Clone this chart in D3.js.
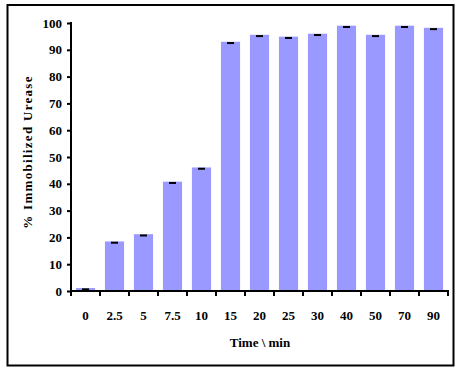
<!DOCTYPE html>
<html><head><meta charset="utf-8">
<script src="https://cdn.jsdelivr.net/npm/d3@7"></script>
<style>body{margin:0;background:#fff}svg{display:block}</style>
</head><body><svg id="c" width="462" height="377" font-family="Liberation Serif" font-weight="bold"></svg>
<script>
const categories = ["0","2.5","5","7.5","10","15","20","25","30","40","50","70","90"];
const values = [1.1, 18.5, 21.2, 40.8, 46.1, 93.0, 95.6, 94.9, 96.0, 99.0, 95.6, 99.0, 98.2];
const yTicks = [0,10,20,30,40,50,60,70,80,90,100];
const FONT = "Liberation Serif";

const svg = d3.select("#c");
svg.append("rect").attr("x",7.5).attr("y",5).attr("width",446).attr("height",360.5)
  .attr("fill","none").attr("stroke","#000").attr("stroke-width",2);

const x = d3.scaleBand().domain(categories).range([71,448]).paddingInner(0.34).paddingOuter(0.17);
const y = d3.scaleLinear().domain([0,100]).range([291,23]);

svg.append("g").selectAll("rect").data(values).join("rect")
  .attr("x",(d,i)=>x(categories[i])).attr("width",x.bandwidth())
  .attr("y",d=>y(d)).attr("height",d=>y(0)-y(d)).attr("fill","#9999FF");

svg.append("g").selectAll("rect").data(values).join("rect")
  .attr("x",(d,i)=>x(categories[i])+x.bandwidth()/2-3.5).attr("width",7)
  .attr("y",(d,i)=>y(d)+0.3).attr("height",2).attr("fill","#000");

const yAxis = svg.append("g").attr("transform","translate(71,0)")
  .call(d3.axisLeft(y).tickValues(yTicks).tickSize(4).tickPadding(5));
yAxis.attr("font-family",FONT).attr("font-size",13).attr("font-weight","bold");
yAxis.selectAll("path,line").attr("stroke","#000").attr("stroke-width",2);
yAxis.select("path").attr("d","M0,22V292");
yAxis.selectAll("text").attr("fill","#000");

const xb = d3.scaleLinear().domain([0,categories.length]).range([71,448]);
const xAxis = svg.append("g").attr("transform","translate(0,291)");
xAxis.append("path").attr("d","M70,0H449").attr("stroke","#000").attr("stroke-width",2);
xAxis.selectAll("line").data(d3.range(categories.length+1)).join("line")
  .attr("x1",d=>xb(d)).attr("x2",d=>xb(d)).attr("y1",0).attr("y2",5)
  .attr("stroke","#000").attr("stroke-width",2);
svg.append("g").selectAll("text").data(categories).join("text")
  .attr("x",d=>x(d)+x.bandwidth()/2).attr("y",320).attr("text-anchor","middle")
  .attr("font-family",FONT).attr("font-weight","bold").attr("font-size",13).text(d=>d);

svg.append("text").attr("x",260).attr("y",347).attr("text-anchor","middle")
  .attr("font-family",FONT).attr("font-weight","bold").attr("font-size",13).text("Time \\ min");
svg.append("text").attr("transform","translate(32,152) rotate(-90)").attr("text-anchor","middle")
  .attr("font-family",FONT).attr("font-weight","bold").attr("font-size",13)
  .attr("letter-spacing","1.3px").text("% Immobilized Urease");
</script></body></html>
